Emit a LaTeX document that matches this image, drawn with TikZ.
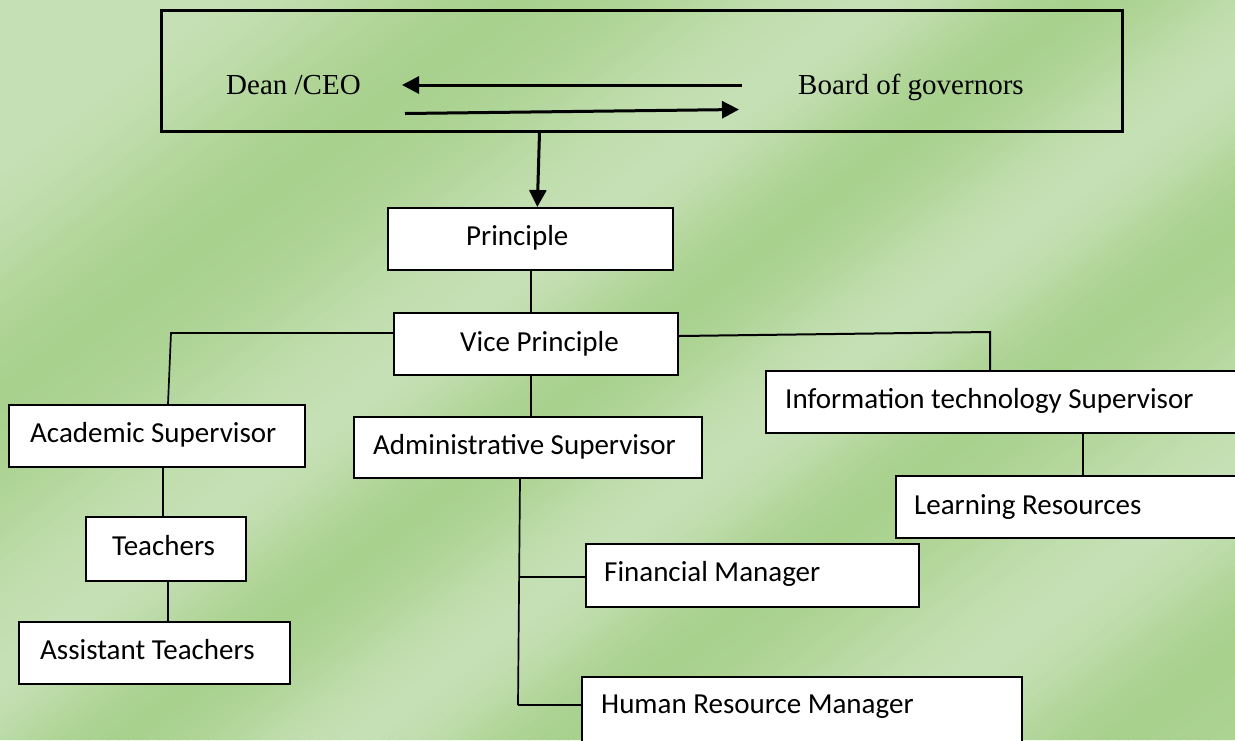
\documentclass[tikz,border=0pt]{standalone}
\usepackage{fontspec}
\setmainfont{Carlito}
\newfontfamily\tnr{Liberation Serif}
\usetikzlibrary{arrows.meta}
\definecolor{bgL}{RGB}{197,224,180}
\definecolor{bgD}{RGB}{169,209,142}
\tikzset{
  box/.style={draw=black, fill=white, line width=2.2pt, inner sep=0pt, anchor=north west},
  lbl/.style={inner sep=0pt, anchor=base west, font=\fontsize{29}{34}\selectfont},
  tlbl/.style={inner sep=0pt, anchor=base west, font=\tnr\fontsize{29}{34}\selectfont},
  conn/.style={line width=1.7pt, draw=black},
  arr/.style={line width=3pt, draw=black, -{Triangle[length=17pt,width=17pt]}},
}
\begin{document}
\begin{tikzpicture}[x=1pt,y=-1pt]
\useasboundingbox (0,0) rectangle (1235,740);
% background diagonal gradient bands
\begin{scope}
\clip (0,0) rectangle (1235,740);
\fill[bgL] (0,0) rectangle (1235,740);
\foreach \ca/\cb/\pa/\pb in {-60/200/100/100, 200/520/100/0, 520/880/0/100, 880/1080/100/0, 1080/1320/0/100, 1320/1530/100/0, 1530/1850/0/100, 1850/2080/100/0, 2080/2260/0/20}{
  \pgfmathtruncatemacro\n{(\cb-\ca)/10}
  \foreach \j in {1,...,\n}{
    \pgfmathsetmacro\cc{\ca+(\j-1)*(\cb-\ca)/\n}
    \pgfmathsetmacro\cd{\ca+\j*(\cb-\ca)/\n+1.5}
    \pgfmathsetmacro\t{(\j-0.5)/\n}
    \pgfmathsetmacro\p{\pa+(\pb-\pa)*(1-cos(180*\t))/2}
    \fill[bgL!\p!bgD] (\cc,0) -- (\cd,0) -- (\cd-962,740) -- (\cc-962,740) -- cycle;
  }
}
\end{scope}

% top box
\node[draw=black, line width=2.6pt, inner sep=0pt, anchor=north west, minimum width=961pt, minimum height=121pt] (topbox) at (160,9) {};
\node[tlbl] (dean) at (226,94) {Dean /CEO};
\node[tlbl] (board) at (798,94) {Board of governors};

% boxes
\node[box, minimum width=285pt, minimum height=62pt] (principle) at (387,207) {};
\node[box, minimum width=284pt, minimum height=62pt] (vice) at (393,312) {};
\node[box, minimum width=296pt, minimum height=62pt] (academic) at (8,404) {};
\node[box, minimum width=348pt, minimum height=61pt] (admin) at (353,416) {};
\node[box, minimum width=490pt, minimum height=62pt] (itsup) at (765,370) {};
\node[box, minimum width=160pt, minimum height=64pt] (teachers) at (85,516) {};
\node[box, minimum width=271pt, minimum height=62pt] (assistant) at (18,621) {};
\node[box, minimum width=360pt, minimum height=62pt] (learning) at (895,475) {};
\node[box, minimum width=333pt, minimum height=63pt] (financial) at (585,543) {};
\node[box, minimum width=440pt, minimum height=74pt] (hr) at (581,676) {};

% labels
\node[lbl] (principlet) at (466,245) {Principle};
\node[lbl] (vicet) at (460,351) {Vice Principle};
\node[lbl] (academict) at (30,442) {Academic Supervisor};
\node[lbl] (admint) at (373,454) {Administrative Supervisor};
\node[lbl] (itsupt) at (785,408) {Information technology Supervisor};
\node[lbl] (teacherst) at (112,555) {Teachers};
\node[lbl] (assistantt) at (40,659) {Assistant Teachers};
\node[lbl] (learningt) at (914,514) {Learning Resources};
\node[lbl] (financialt) at (604,581) {Financial Manager};
\node[lbl] (hrt) at (601,713) {Human Resource Manager};

% arrows in the top box
\coordinate (a1s) at (742,85);
\coordinate (a1e) at (402,85);
\coordinate (a2s) at (405,113.5);
\coordinate (a2e) at (739,109.5);
\draw[arr] (a1s) -- (a1e);
\draw[arr] (a2s) -- (a2e);
\coordinate (xdt) at (539.5,0);
\coordinate (xdb) at (537.3,0);
\draw[arr] (topbox.south -| xdt) -- (principle.north -| xdb);

% connectors
\coordinate (xpv) at (531,0);
\draw[conn] (principle.south -| xpv) -- (vice.north -| xpv);
\draw[conn] (vice.south -| xpv) -- (admin.north -| xpv);
\coordinate (jl) at (171,333);
\coordinate (xac) at (168,0);
\draw[conn] (vice.west |- jl) -- (jl) -- (academic.north -| xac);
\coordinate (vr) at (677,336);
\coordinate (jr) at (990,332);
\draw[conn, line width=2pt] (vice.east |- vr) -- (jr) -- (itsup.north -| jr);
\coordinate (xat) at (163,0);
\draw[conn] (academic.south -| xat) -- (teachers.north -| xat);
\coordinate (xta) at (168,0);
\draw[conn] (teachers.south -| xta) -- (assistant.north -| xta);
\coordinate (xad) at (520,0);
\coordinate (jf) at (518.8,577);
\coordinate (jh) at (518,705);
\draw[conn] (admin.south -| xad) -- (jh);
\draw[conn, line width=2.6pt] (jh) -- (hr.west |- jh);
\draw[conn, line width=2.2pt] (jf) -- (financial.west |- jf);
\coordinate (xil) at (1083,0);
\draw[conn] (itsup.south -| xil) -- (learning.north -| xil);
\end{tikzpicture}
\end{document}
